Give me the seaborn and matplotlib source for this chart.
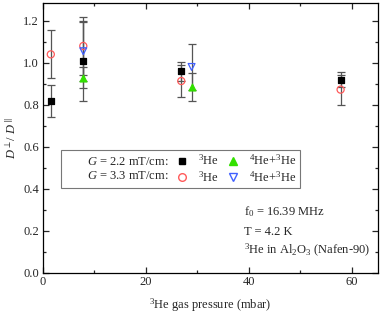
import matplotlib
matplotlib.use("Agg")
import matplotlib.pyplot as plt
from matplotlib.lines import Line2D
from matplotlib.ticker import MultipleLocator, FormatStrFormatter
import pandas as pd
import seaborn as sns

# pressure (mbar) and D_perp / D_par values with errors
p_22_he3 = [1.6, 7.9, 26.9, 57.8]
d_22_he3 = [0.819, 1.008, 0.960, 0.921]
e_22_he3 = [0.078, 0.19, 0.045, 0.035]

p_33_he3 = [1.6, 7.9, 26.9, 57.8]
d_33_he3 = [1.041, 1.081, 0.914, 0.873]
e_33_he3 = [0.115, 0.138, 0.075, 0.072]

p_22_mix = [7.9, 28.9]
d_22_mix = [0.929, 0.886]
e_22_mix = [0.05, 0.068]

p_33_mix = [7.9, 28.9]
d_33_mix = [1.056, 0.981]
e_33_mix = [0.14, 0.108]

sns.set_style("ticks")
plt.rcParams['font.family'] = ['Liberation Serif', 'DejaVu Serif']
plt.rcParams['mathtext.fontset'] = 'custom'
plt.rcParams['mathtext.rm'] = 'Liberation Serif'
plt.rcParams['mathtext.it'] = 'Liberation Serif:italic'
plt.rcParams['font.size'] = 9

fig, ax = plt.subplots(figsize=(3.8, 3.14), dpi=100)
fig.subplots_adjust(left=0.112, right=0.994, bottom=0.131, top=0.99)

series = [
    (p_22_he3, d_22_he3, e_22_he3, 's', 'black', 'black', 20),
    (p_33_he3, d_33_he3, e_33_he3, 'o', 'none', '#ff5a5a', 26),
    (p_22_mix, d_22_mix, e_22_mix, '^', '#33e000', '#33e000', 24),
    (p_33_mix, d_33_mix, e_33_mix, 'v', 'none', '#4060ff', 24),
]
for x, y, e, m, fc, ec, s in series:
    ax.errorbar(x, y, yerr=e, fmt='none', ecolor='#555555', elinewidth=0.9,
                capsize=3, capthick=0.9, zorder=2)
for x, y, e, m, fc, ec, s in series:
    df = pd.DataFrame({'p': x, 'd': y})
    sns.scatterplot(data=df, x='p', y='d', marker=m, s=s,
                    color=fc, edgecolor=ec, linewidth=0.9, ax=ax, zorder=3)

ax.set_xlim(0, 65)
ax.set_ylim(0, 1.285)
ax.xaxis.set_major_locator(MultipleLocator(20))
ax.xaxis.set_minor_locator(MultipleLocator(10))
ax.yaxis.set_major_locator(MultipleLocator(0.2))
ax.yaxis.set_minor_locator(MultipleLocator(0.1))
ax.yaxis.set_major_formatter(FormatStrFormatter('%.1f'))
ax.tick_params(which='both', direction='in', top=True, right=True,
               labelsize=9, width=0.9)
ax.tick_params(which='major', length=4, pad=2.5)
ax.tick_params(which='minor', length=2.5)
for sp in ax.spines.values():
    sp.set_linewidth(0.9)
    sp.set_color('black')

ax.set_xlabel('$^3$He gas pressure (mbar)', fontsize=9, labelpad=6)
ax.set_ylabel(r'$D^{\perp}$/ $D^{\parallel}$', fontsize=9)
ax.yaxis.set_label_coords(-0.07, 0.5)

blank = Line2D([], [], linestyle='none', marker=None)
h_sq = Line2D([], [], linestyle='none', marker='s', color='black', ms=4.5)
h_ci = Line2D([], [], linestyle='none', marker='o', mfc='none', mec='#ff5a5a', ms=5.5)
h_up = Line2D([], [], linestyle='none', marker='^', color='#33e000', ms=5.5)
h_dn = Line2D([], [], linestyle='none', marker='v', mfc='none', mec='#4060ff', ms=5.5)
leg = ax.legend(handles=[blank, blank, h_sq, h_ci, h_up, h_dn],
                labels=['$G$ = 2.2 mT/cm:', '$G$ = 3.3 mT/cm:', '$^3$He', '$^3$He',
                        '$^4$He+$^3$He', '$^4$He+$^3$He'],
                ncol=3, loc='upper left', bbox_to_anchor=(0.035, 0.48),
                frameon=True, fancybox=False, edgecolor='#777777', framealpha=1,
                fontsize=9, handlelength=0.9, handletextpad=0.9,
                columnspacing=0.6, borderpad=0.3, labelspacing=0.15)
leg.get_frame().set_linewidth(0.8)

ax.text(0.6, 0.212, 'f$_0$ = 16.39 MHz', transform=ax.transAxes, fontsize=9)
ax.text(0.6, 0.142, 'T = 4.2 K', transform=ax.transAxes, fontsize=9)
ax.text(0.6, 0.072, '$^3$He in Al$_2$O$_3$ (Nafen-90)', transform=ax.transAxes, fontsize=9)

fig.savefig('out.png', dpi=100)
